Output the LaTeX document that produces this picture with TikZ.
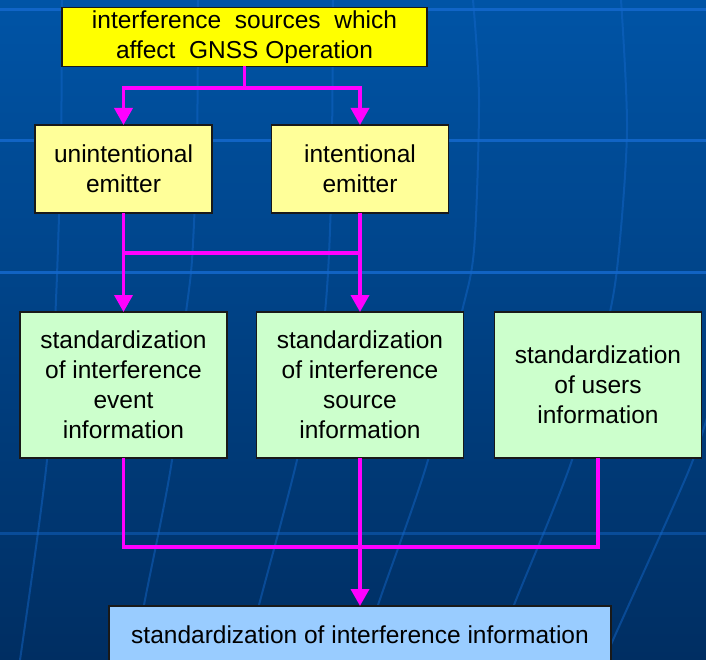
\documentclass[tikz,border=0pt]{standalone}
\usepackage{fontspec}
\setmainfont{Liberation Sans}
\usetikzlibrary{arrows.meta}
\definecolor{bgtop}{RGB}{0,84,166}
\definecolor{bgbot}{RGB}{0,46,98}
\definecolor{gridln}{RGB}{20,105,205}
\definecolor{boxtop}{RGB}{255,255,0}
\definecolor{boxyel}{RGB}{255,255,153}
\definecolor{boxgrn}{RGB}{204,255,204}
\definecolor{boxblu}{RGB}{153,204,255}
\definecolor{wirecol}{RGB}{255,0,255}
\definecolor{edgecol}{RGB}{25,25,25}
\tikzset{
  box/.style={draw=edgecol, line width=1.1pt, outer sep=0pt, inner sep=0pt,
    align=center, text=black, font=\fontsize{24.5}{30}\selectfont},
  wire/.style={draw=wirecol, line width=3.6pt, line join=miter},
  arr/.style={wire, -{Triangle[width=18pt,length=17pt]}},
  gridh/.style={draw=gridln, line width=3pt, opacity=0.85},
  gridv/.style={draw=gridln, line width=2pt, opacity=0.45}
}
\begin{document}
\begin{tikzpicture}[x=1pt,y=-1pt]
\useasboundingbox (0,0) rectangle (706,660);
% background
\shade[top color=bgtop, bottom color=bgbot] (0,0) rectangle (706,660);
\foreach \yy in {10,141,272} {\draw[gridh] (0,\yy) -- (706,\yy);}
\draw[gridh, opacity=0.45] (0,533) -- (706,533);
\draw[gridv] plot[smooth] coordinates {(62,0) (61,140) (56,300) (47,460) (20,660)};
\draw[gridv] plot[smooth] coordinates {(198,0) (197,140) (192,260) (184,330) (172,460) (144,605) (135,660)};
\draw[gridv] plot[smooth] coordinates {(333,0) (331,200) (323,330) (297,460) (259,605) (245,660)};
\draw[gridv] plot[smooth] coordinates {(473,0) (479,100) (474,250) (460,320) (428,460) (378,605) (362,660)};
\draw[gridv] plot[smooth] coordinates {(621,0) (627,130) (618,260) (606,330) (572,460) (514,605) (494,660)};
\draw[gridv] plot[smooth] coordinates {(712,400) (689,470) (613,640) (605,660)};
% nodes
\node[box, fill=boxtop, minimum width=365pt, minimum height=59pt] (top) at (244.5,37)
  {interference\ \ sources\ \ which\\ affect\ \ GNSS Operation};
\node[box, fill=boxyel, minimum width=177pt, minimum height=88pt] (unint) at (123.5,169)
  {unintentional\\ emitter};
\node[box, fill=boxyel, minimum width=177pt, minimum height=88pt] (int) at (360,169)
  {intentional\\ emitter};
\node[box, fill=boxgrn, minimum width=207pt, minimum height=146pt] (g1) at (123.5,385)
  {standardization\\ of interference\\ event\\ information};
\node[box, fill=boxgrn, minimum width=207pt, minimum height=146pt] (g2) at (360,385)
  {standardization\\ of interference\\ source\\ information};
\node[box, fill=boxgrn, minimum width=207pt, minimum height=146pt] (g3) at (598,385)
  {standardization\\ of users\\ information};
\node[box, fill=boxblu, minimum width=502pt, minimum height=58pt] (fin) at (360,635)
  {standardization of interference information};
% connectors
\coordinate (h1) at (0,88);
\coordinate (h2) at (0,253);
\coordinate (h3) at (0,547);
\draw[wire] (top.south) -- (top.south |- h1);
\draw[arr] (top.south |- h1) -| (unint.north);
\draw[arr] (top.south |- h1) -| (int.north);
\draw[arr] (unint.south) -- (g1.north);
\draw[arr] (int.south) -- (g2.north);
\draw[wire] (unint.south |- h2) -- (int.south |- h2);
\draw[wire] (g1.south) |- (g3.south |- h3) -- (g3.south);
\draw[arr] (g2.south) -- (fin.north);
\end{tikzpicture}
\end{document}
